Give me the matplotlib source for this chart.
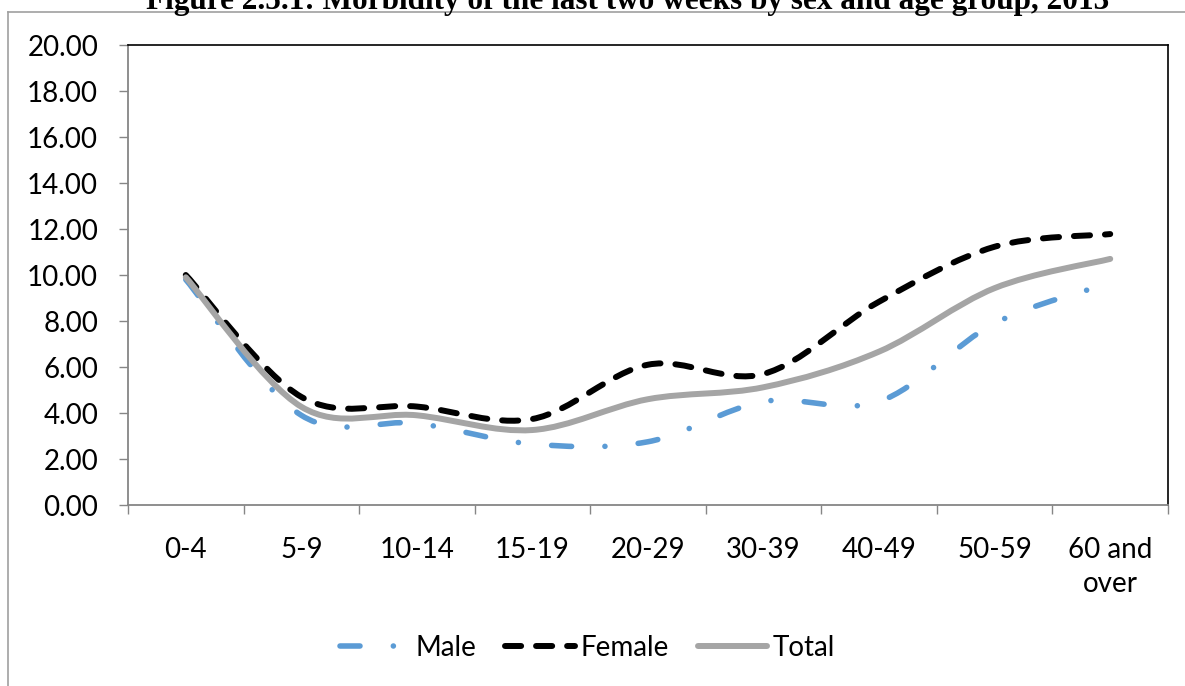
import matplotlib
matplotlib.use("Agg")
import numpy as np
import matplotlib.pyplot as plt
from matplotlib.path import Path
from matplotlib.patches import PathPatch
from matplotlib.lines import Line2D

categories = ["0-4", "5-9", "10-14", "15-19", "20-29", "30-39", "40-49", "50-59", "60 and\nover"]
male = [9.80, 3.90, 3.55, 2.65, 2.75, 4.50, 4.50, 7.90, 9.65]
female = [10.00, 4.70, 4.28, 3.74, 6.10, 5.70, 8.84, 11.23, 11.78]
total = [9.90, 4.27, 3.90, 3.26, 4.60, 5.12, 6.67, 9.43, 10.70]
yticks = [0, 2, 4, 6, 8, 10, 12, 14, 16, 18, 20]
title = "Figure 2.5.1: Morbidity of the last two weeks by sex and age group, 2013"

plt.rcParams['font.family'] = ['Lato', 'DejaVu Sans']

W, H = 1185, 686
fig = plt.figure(figsize=(W / 100, H / 100), dpi=100)
ax = fig.add_axes([128 / W, 1 - 505 / H, (1168 - 128) / W, (505 - 45) / H])


def smooth_path(values):
    pts = np.column_stack([np.arange(len(values), dtype=float), np.asarray(values, float)])
    n = len(pts)
    verts = [pts[0]]
    codes = [Path.MOVETO]
    for i in range(n - 1):
        p0 = pts[i - 1] if i > 0 else pts[i]
        p1 = pts[i]
        p2 = pts[i + 1]
        p3 = pts[i + 2] if i + 2 < n else pts[i + 1]
        c1 = p1 + (p2 - p0) / 6.0
        c2 = p2 - (p3 - p1) / 6.0
        verts += [c1, c2, p2]
        codes += [Path.CURVE4] * 3
    return Path(verts, codes)


styles = [
    ("Male", male, dict(color="#5B9BD5", lw=4.0, ls=(0, (3.6, 6.0, 0.01, 6.0)))),
    ("Female", female, dict(color="#000000", lw=4.3, ls=(0, (2.7, 2.5)))),
    ("Total", total, dict(color="#A5A5A5", lw=4.3, ls="solid")),
]

handles = []
for name, vals, st in styles:
    patch = PathPatch(smooth_path(vals), facecolor="none", edgecolor=st["color"],
                      linewidth=st["lw"], linestyle=st["ls"], capstyle="round",
                      joinstyle="round", transform=ax.transData, zorder=3)
    ax.add_patch(patch)
    handles.append(Line2D([], [], color=st["color"], lw=st["lw"], ls=st["ls"],
                          dash_capstyle="round", solid_capstyle="round", label=name))

ax.set_xlim(-0.5, len(categories) - 0.5)
ax.set_ylim(0, 20)

ax.set_yticks(yticks)
ax.set_yticklabels([f"{v:.2f}" for v in yticks])
ax.tick_params(axis="y", direction="out", length=6.5, width=1, color="#868686",
               pad=15, labelsize=20, labelcolor="black")

ax.set_xticks(np.arange(-0.5, len(categories), 1.0))
ax.set_xticklabels([])
ax.set_xticks(np.arange(len(categories)), minor=True)
ax.set_xticklabels(categories, minor=True)
ax.tick_params(axis="x", which="major", direction="out", length=6.5, width=1, color="#868686")
ax.tick_params(axis="x", which="minor", length=0, pad=23, labelsize=20, labelcolor="black")
for lbl in ax.get_xticklabels(minor=True):
    lbl.set_linespacing(1.4)

for s in ["left", "bottom"]:
    ax.spines[s].set_color("#868686")
    ax.spines[s].set_linewidth(1.3)
for s in ["top", "right"]:
    ax.spines[s].set_color("#000000")
    ax.spines[s].set_linewidth(1.2)

# outer chart frame
fx = 8 / W
fy = 1 - 12 / H
fig.add_artist(Line2D([fx, fx], [0, fy], transform=fig.transFigure, color="#A0A0A0", lw=1.2))
fig.add_artist(Line2D([fx, 1], [fy, fy], transform=fig.transFigure, color="#A0A0A0", lw=1.2))

fig.text(0.53, 1 - 9 / H, title, ha="center", va="baseline", fontsize=22.5,
         fontweight="bold", family=["Liberation Serif", "DejaVu Serif"])

fig.legend(handles=handles, loc="center", bbox_to_anchor=(0.496, 1 - 648 / H), ncol=3,
           frameon=False, fontsize=20, handlelength=2.5, handletextpad=0.2,
           columnspacing=1.05, borderaxespad=0)

fig.savefig("out.png", dpi=100)
